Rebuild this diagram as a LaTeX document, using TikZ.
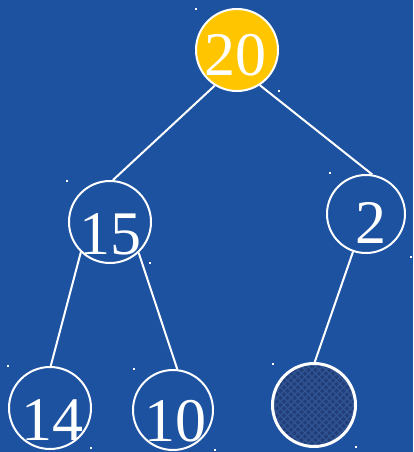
\documentclass[tikz,border=0pt]{standalone}
\usepackage{fontspec}
\setmainfont{Liberation Serif}
\definecolor{bgblue}{RGB}{28,82,160}
\definecolor{rootyellow}{RGB}{255,198,0}
\definecolor{hatchdark}{RGB}{33,62,120}
\definecolor{hatchlight}{RGB}{48,86,150}
\begin{document}
\begin{tikzpicture}[x=1pt,y=-1pt,
  treenode/.style={circle,draw=white,line width=2pt,inner sep=0pt},
  numtext/.style={inner sep=0pt,text=white,font=\fontsize{62}{62}\selectfont},
  edge/.style={draw=white,line width=2pt},
  handle/.style={fill=white}]
\fill[bgblue] (0,0) rectangle (413,452);
\useasboundingbox (0,0) rectangle (413,452);
% nodes
\node[treenode,fill=rootyellow,minimum size=82pt] (n20) at (237,50) {};
\node[treenode,minimum size=82pt] (n15) at (110,222) {};
\node[treenode,minimum size=78pt] (n2) at (366,214) {};
\node[treenode,minimum size=82pt] (n14) at (50,408) {};
\node[treenode,minimum size=80pt] (n10) at (173,410) {};
\node[treenode,fill=hatchdark,minimum size=84pt] (nh) at (314,405) {};
% hatch inside the dark node
\begin{scope}
\clip (314,405) circle (41pt);
\foreach \k in {-100,-93,...,100} {
  \draw[hatchlight,line width=1.2pt] (314+\k-50,355) -- (314+\k+50,455);
  \draw[hatchlight,line width=1.2pt] (314+\k+50,355) -- (314+\k-50,455);
}
\end{scope}
\draw[white,line width=2pt] (nh) circle (41pt);
% texts
\node[numtext] (t20) at (235,55) {20};
\node[numtext] (t15) at (110,234) {15};
\node[numtext] (t2) at (371,223) {2};
\node[numtext] (t14) at (52,420) {14};
\node[numtext] (t10) at (175,421) {10};
% edges
\draw[edge] (n20.238) -- (n15.86);
\draw[edge] (n20.303) -- (n2.81);
\draw[edge] (n15.226) -- (n14.89);
\draw[edge] (n15.313) -- (n10.84);
\draw[edge] (n2.251) -- (nh.89);
% selection handles
\foreach \p [count=\i] in {(196,9),(279,91),(67,181),(150,263),(330,173),(411,257),(8,366),(91,448),(134,369),(215,450),(273,364),(356,447)}
  \fill[handle] \p ++(-1.2,-1.2) rectangle ++(2.4,2.4);
\end{tikzpicture}
\end{document}
